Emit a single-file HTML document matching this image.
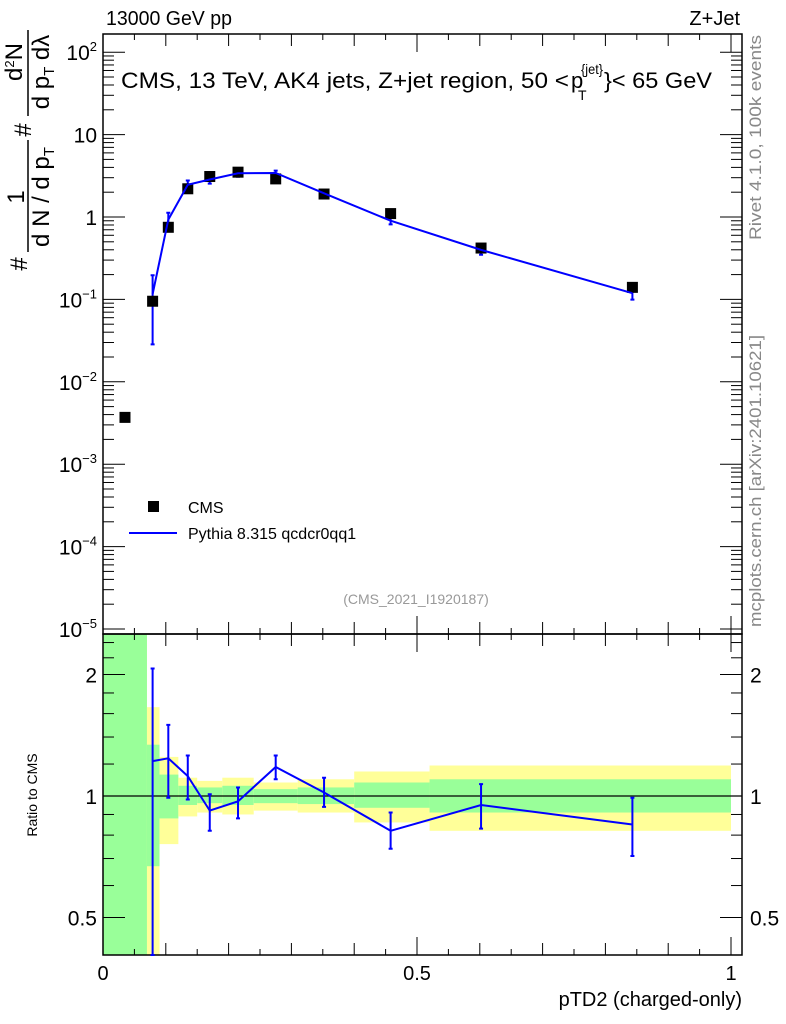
<!DOCTYPE html>
<html><head><meta charset="utf-8">
<style>
html,body{margin:0;padding:0;background:#fff;}
svg{display:block;font-family:"Liberation Sans",Arial,sans-serif;}
</style></head>
<body>
<svg id="chart" width="786" height="1024" viewBox="0 0 786 1024" xmlns="http://www.w3.org/2000/svg">
  <g id="bands"></g>
  <g id="axes"></g>
  <g id="series"></g>
  <text x="106" y="25" font-size="20" textLength="126" lengthAdjust="spacingAndGlyphs">13000 GeV pp</text>
  <text x="740" y="25" font-size="20" text-anchor="end">Z+Jet</text>
  <g>
    <text x="121" y="88" font-size="22" textLength="448" lengthAdjust="spacingAndGlyphs">CMS, 13 TeV, AK4 jets, Z+jet region, 50 &lt;</text>
    <text x="571" y="88" font-size="22">p</text>
    <text x="581" y="74" font-size="14" textLength="22" lengthAdjust="spacingAndGlyphs">{jet}</text>
    <text x="578" y="100" font-size="14">T</text>
    <text x="604" y="88" font-size="22" textLength="108" lengthAdjust="spacingAndGlyphs">}&lt; 65 GeV</text>
  </g>
  <text transform="translate(761,240) rotate(-90)" font-size="17" fill="#888" textLength="205" lengthAdjust="spacingAndGlyphs">Rivet 4.1.0,  100k events</text>
  <text transform="translate(761,627) rotate(-90)" font-size="17" fill="#888" textLength="292" lengthAdjust="spacingAndGlyphs">mcplots.cern.ch [arXiv:2401.10621]</text>
  <text x="416" y="604" font-size="14" fill="#999" text-anchor="middle">(CMS_2021_I1920187)</text>
  <g>
    <rect x="148" y="501" width="11" height="11" fill="#000"/>
    <text x="188" y="513" font-size="16">CMS</text>
    <line x1="129" y1="533" x2="177" y2="533" stroke="#0000ff" stroke-width="2"/>
    <text x="188" y="539" font-size="16">Pythia 8.315 qcdcr0qq1</text>
  </g>
  <g font-size="24">
    <text transform="translate(27,264) rotate(-90)" text-anchor="middle">#</text>
    <text transform="translate(24,197) rotate(-90)" text-anchor="middle">1</text>
    <line x1="28" y1="252" x2="28" y2="140" stroke="#000" stroke-width="1.5"/>
    <text transform="translate(49,197) rotate(-90)" text-anchor="middle">d N / d p<tspan font-size="15" dy="5">T</tspan></text>
    <text transform="translate(31,130) rotate(-90)" text-anchor="middle">#</text>
    <text transform="translate(22,62) rotate(-90)" text-anchor="middle">d<tspan font-size="13" dy="-8">2</tspan><tspan dy="8">N</tspan></text>
    <line x1="28" y1="116" x2="28" y2="30" stroke="#000" stroke-width="1.5"/>
    <text transform="translate(49,72) rotate(-90)" text-anchor="middle">d p<tspan font-size="15" dy="5">T</tspan><tspan dy="-5"> dλ</tspan></text>
  </g>
  <text transform="translate(37,795) rotate(-90)" font-size="14" text-anchor="middle">Ratio to CMS</text>
  <text x="742" y="1006" font-size="20" text-anchor="end">pTD2 (charged-only)</text>
</svg>
<script>
const xs = [0.035,0.079,0.104,0.135,0.17,0.215,0.275,0.352,0.458,0.602,0.843];
const cmsVals = [0.0037,0.095,0.75,2.2,3.1,3.5,2.9,1.9,1.1,0.42,0.14];
const ratioVals = [null,1.22,1.24,1.12,0.92,0.97,1.18,1.02,0.82,0.95,0.85];
const ratioLo = [null,0.3,0.99,0.98,0.82,0.88,1.10,0.94,0.74,0.83,0.71];
const ratioHi = [null,2.07,1.5,1.26,1.01,1.05,1.26,1.11,0.91,1.07,0.99];
const binEdges = [0,0.07,0.09,0.12,0.15,0.19,0.24,0.31,0.40,0.52,1.0];
const greenHi = [100,1.34,1.13,1.06,1.05,1.06,1.04,1.05,1.08,1.10];
const greenLo = [0.01,0.67,0.88,0.95,0.96,0.95,0.96,0.955,0.935,0.91];
const yellowHi = [100,1.66,1.25,1.11,1.09,1.11,1.08,1.10,1.15,1.19];
const yellowLo = [0.01,0.01,0.76,0.89,0.91,0.90,0.92,0.91,0.86,0.82];
const mainTicks = ["10<tspan font-size='13' dy='-9'>2</tspan>","10","1","10<tspan font-size='13' dy='-9'>−1</tspan>","10<tspan font-size='13' dy='-9'>−2</tspan>","10<tspan font-size='13' dy='-9'>−3</tspan>","10<tspan font-size='13' dy='-9'>−4</tspan>","10<tspan font-size='13' dy='-9'>−5</tspan>"];
const mainTickVals = [100,10,1,0.1,0.01,0.001,0.0001,0.00001];
const ratioTickVals = [2,1,0.5];
const xTickVals = [0,0.5,1];

const NS="http://www.w3.org/2000/svg";
const L=103,R=742,T=34,MB=634,B=955;
const X=v=>L+v*628;
const Y=v=>217-Math.log10(v)*82.4;
const RY=v=>{let y=796-Math.log2(v)*121.5;return Math.max(MB,Math.min(B,y));};
function mk(tag,attrs,parent){const e=document.createElementNS(NS,tag);for(const k in attrs)e.setAttribute(k,attrs[k]);parent.appendChild(e);return e;}
const bands=document.getElementById('bands'),axes=document.getElementById('axes'),series=document.getElementById('series');

for(let i=0;i<binEdges.length-1;i++){
  const x1=X(binEdges[i]),x2=X(binEdges[i+1]);
  const y=mk('rect',{x:x1,y:RY(yellowHi[i]),width:x2-x1,height:RY(yellowLo[i])-RY(yellowHi[i]),fill:'#ffff99'},bands);
  
  
  const g=mk('rect',{x:x1,y:RY(greenHi[i]),width:x2-x1,height:RY(greenLo[i])-RY(greenHi[i]),fill:'#99ff99'},bands);
  
  
}

mk('rect',{x:L,y:T,width:R-L,height:MB-T,fill:'none',stroke:'#000','stroke-width':1.5},axes);
mk('rect',{x:L,y:MB,width:R-L,height:B-MB,fill:'none',stroke:'#000','stroke-width':1.5},axes);
mk('line',{x1:L,y1:796,x2:R,y2:796,stroke:'#000','stroke-width':1.2},axes);

for(let k=0;k<=20;k++){
  const v=k*0.05,x=X(v);if(x>R)break;
  const len=(k%10===0)?18:(k%2===0)?12:6;
  [[T,1],[MB,-1],[MB,1],[B,-1]].forEach(([y0,d])=>mk('line',{x1:x,y1:y0,x2:x,y2:y0+d*len,stroke:'#000','stroke-width':1},axes));
}
xTickVals.forEach(v=>{const t=mk('text',{x:X(v),y:980,'font-size':20,'text-anchor':'middle'},axes);t.textContent=String(v===0.5?'0.5':v);

});

for(let d=-5;d<=2;d++){
  for(let m=1;m<10;m++){
    const v=m*Math.pow(10,d),y=Y(v);if(y<T||y>MB)continue;
    const len=m===1?22:11;
    mk('line',{x1:L,y1:y,x2:L+len,y2:y,stroke:'#000'},axes);
    mk('line',{x1:R,y1:y,x2:R-len,y2:y,stroke:'#000'},axes);
  }
}
mainTickVals.forEach((v,i)=>{const t=mk('text',{x:97,y:Y(v)+8,'font-size':21,'text-anchor':'end'},axes);t.innerHTML=mainTicks[i];

});

[0.4,0.5,0.6,0.7,0.8,0.9,1,1.2,1.4,1.6,1.8,2,2.2,2.4].forEach(v=>{
  const y=796-Math.log2(v)*121.5;if(y<MB||y>B)return;
  const len=ratioTickVals.includes(v)?22:11;
  mk('line',{x1:L,y1:y,x2:L+len,y2:y,stroke:'#000'},axes);
  mk('line',{x1:R,y1:y,x2:R-len,y2:y,stroke:'#000'},axes);
});
ratioTickVals.forEach(v=>{
  const a=mk('text',{x:97,y:RY(v)+8,'font-size':21,'text-anchor':'end'},axes);a.textContent=String(v);
  
  
  const b=mk('text',{x:750,y:RY(v)+8,'font-size':21},axes);b.textContent=String(v);
  
  
});

let pts=[];
for(let i=1;i<xs.length;i++){
  const mc=cmsVals[i]*ratioVals[i];
  pts.push(X(xs[i])+','+Y(mc));
  const lo=Math.max(Y(cmsVals[i]*ratioHi[i]),T),hi=Math.min(Y(cmsVals[i]*ratioLo[i]),MB);
  const eb=mk('path',{d:`M${X(xs[i])},${lo}V${hi}M${X(xs[i])-2},${lo}h4M${X(xs[i])-2},${hi}h4`,stroke:'#0000ff','stroke-width':2,fill:'none'},series);
  
  
}
xs.forEach((x,i)=>{const r=mk('rect',{x:X(x)-5.5,y:Y(cmsVals[i])-5.5,width:11,height:11,fill:'#000'},series);

});
const ml=mk('polyline',{points:pts.join(' '),fill:'none',stroke:'#0000ff','stroke-width':2},series);



let rp=[];
for(let i=1;i<xs.length;i++){
  const x=X(xs[i]);rp.push(x+','+RY(ratioVals[i]));
  const a=RY(ratioHi[i]),b=RY(ratioLo[i]);
  const eb=mk('path',{d:`M${x},${a}V${b}M${x-2},${a}h4M${x-2},${b}h4`,stroke:'#0000ff','stroke-width':2,fill:'none'},series);
  
  
}
const rl=mk('polyline',{points:rp.join(' '),fill:'none',stroke:'#0000ff','stroke-width':2},series);


</script>
</body></html>
